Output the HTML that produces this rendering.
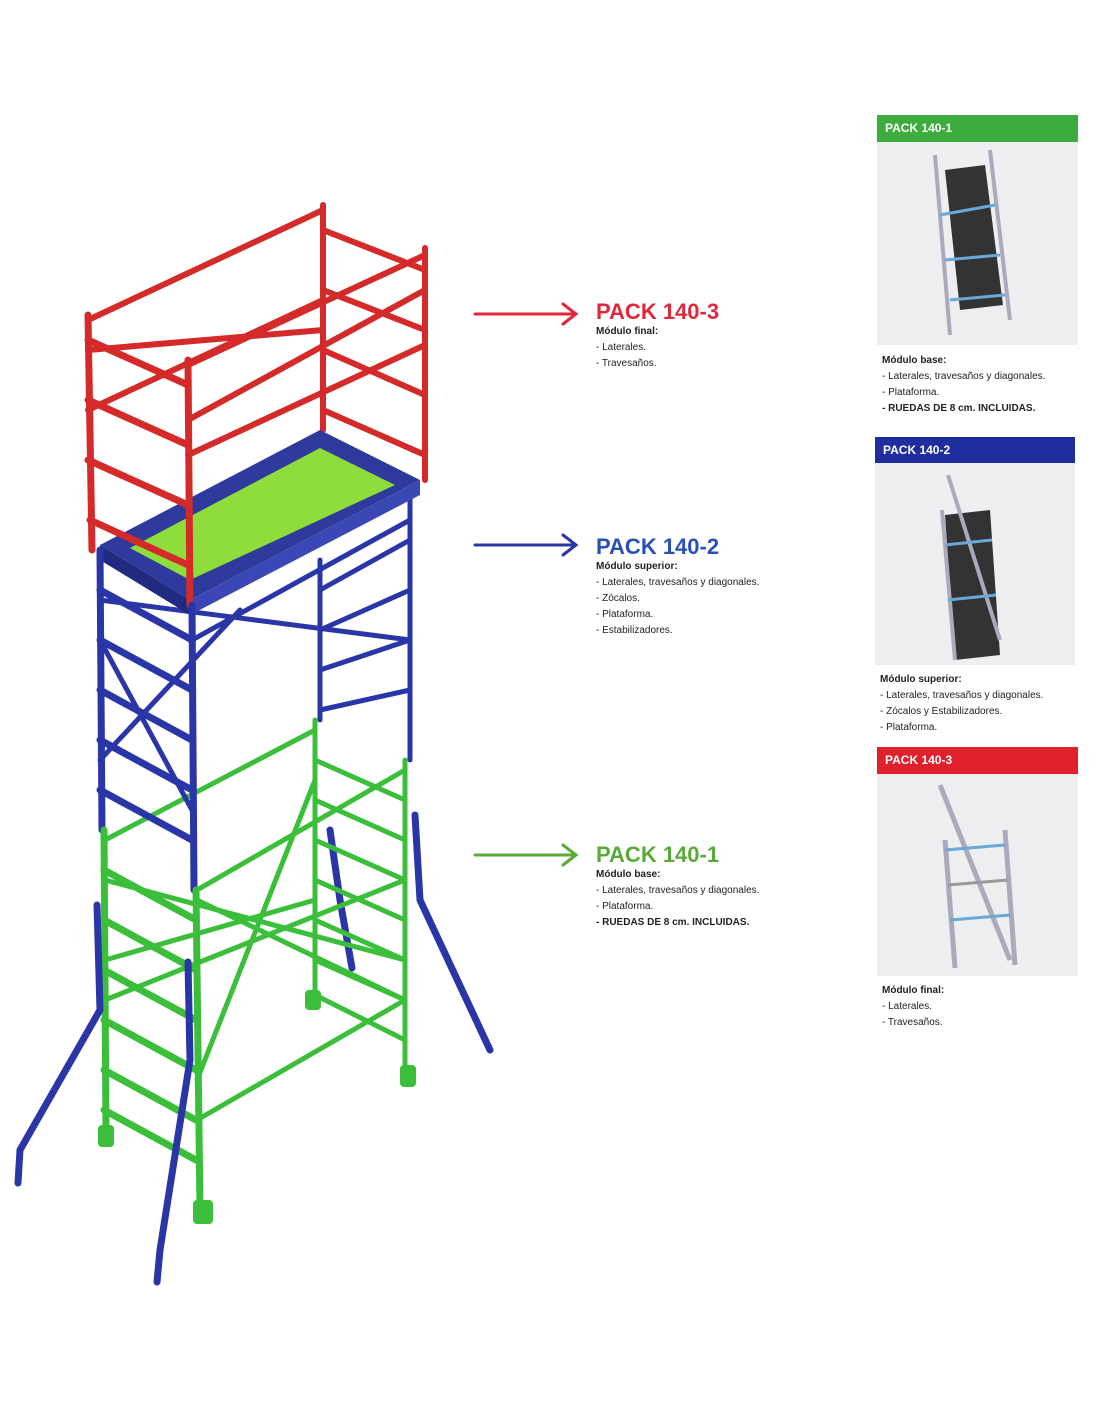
<!DOCTYPE html>
<html><head><meta charset="utf-8"><style>
body{margin:0;background:#fff;width:1100px;height:1422px;overflow:hidden;position:relative;font-family:"Liberation Sans",sans-serif}
.lbl{position:absolute;font-weight:bold;font-size:22px}
.sub{position:absolute;font-size:10px;line-height:16px;color:#222}
.sub b{font-weight:bold}
.hdr{position:absolute;color:#fff;font-weight:bold;font-size:12px;padding:6px 8px;box-sizing:border-box;height:27px}
.img{position:absolute;background:#eceeef}
.cap{position:absolute;font-size:10px;line-height:16px;color:#222}
</style></head><body>
<svg width="1100" height="1422" style="position:absolute;left:0;top:0" stroke-linecap="round">
<!-- outriggers back -->
<g stroke="#2a35a8" stroke-width="7" fill="none">
<path d="M415 815 L420 900 L490 1050"/>
<path d="M330 830 L340 900 L352 968"/>
</g>
<!-- green lower -->
<g stroke="#3bbf3b" stroke-width="5" fill="none">
<line x1="315" y1="720" x2="315" y2="1000"/>
<line x1="405" y1="760" x2="405" y2="1075"/>
<line x1="315" y1="760" x2="405" y2="800"/><line x1="315" y1="800" x2="405" y2="840"/><line x1="315" y1="840" x2="405" y2="880"/><line x1="315" y1="880" x2="405" y2="920"/><line x1="315" y1="920" x2="405" y2="960"/><line x1="315" y1="960" x2="405" y2="1000"/><line x1="315" y1="995" x2="405" y2="1040"/>
<line x1="105" y1="840" x2="315" y2="730"/><line x1="197" y1="890" x2="405" y2="770"/>
<line x1="105" y1="1000" x2="405" y2="880"/><line x1="197" y1="1080" x2="315" y2="780"/>
<line x1="105" y1="880" x2="405" y2="960"/><line x1="197" y1="1120" x2="405" y2="1000"/>
<line x1="105" y1="960" x2="315" y2="900"/><line x1="197" y1="900" x2="405" y2="1000"/>
</g>
<!-- blue middle back -->
<g stroke="#2a35a8" stroke-width="5" fill="none">
<line x1="320" y1="560" x2="320" y2="720"/>
<line x1="410" y1="490" x2="410" y2="760"/>
<line x1="320" y1="590" x2="410" y2="540"/><line x1="320" y1="630" x2="410" y2="590"/><line x1="320" y1="670" x2="410" y2="640"/><line x1="320" y1="710" x2="410" y2="690"/>
<line x1="100" y1="600" x2="410" y2="640"/><line x1="192" y1="640" x2="410" y2="520"/>
<line x1="100" y1="760" x2="240" y2="610"/><line x1="192" y1="810" x2="100" y2="640"/>
</g>
<!-- red back -->
<g stroke="#d42a2a" stroke-width="6" fill="none">
<line x1="323" y1="205" x2="323" y2="430"/>
<line x1="425" y1="248" x2="425" y2="480"/>
<line x1="323" y1="230" x2="425" y2="270"/><line x1="323" y1="290" x2="425" y2="330"/><line x1="323" y1="350" x2="425" y2="395"/><line x1="323" y1="410" x2="425" y2="455"/>
<line x1="88" y1="320" x2="323" y2="210"/><line x1="188" y1="365" x2="425" y2="255"/>
<line x1="88" y1="410" x2="323" y2="300"/><line x1="188" y1="455" x2="425" y2="345"/>
<line x1="188" y1="420" x2="425" y2="290"/><line x1="88" y1="350" x2="323" y2="330"/>
</g>
<!-- platform -->
<polygon points="100,545 320,430 420,480 190,600" fill="#2e3a9c"/>
<polygon points="130,548 320,448 395,485 190,580" fill="#8fdd3a"/>
<polygon points="100,545 190,600 190,615 100,560" fill="#1f2a80"/>
<polygon points="190,600 420,480 420,495 190,615" fill="#3a47b5"/>
<!-- red front -->
<g stroke="#d42a2a" stroke-width="7" fill="none">
<line x1="88" y1="315" x2="92" y2="550"/>
<line x1="188" y1="360" x2="190" y2="605"/>
<line x1="88" y1="340" x2="188" y2="385"/><line x1="88" y1="400" x2="188" y2="445"/><line x1="88" y1="460" x2="188" y2="505"/><line x1="90" y1="520" x2="188" y2="565"/>
</g>
<!-- blue front -->
<g stroke="#2a35a8" stroke-width="7" fill="none">
<line x1="100" y1="550" x2="102" y2="830"/>
<line x1="192" y1="605" x2="194" y2="890"/>
<line x1="100" y1="590" x2="192" y2="640"/><line x1="100" y1="640" x2="192" y2="690"/><line x1="100" y1="690" x2="192" y2="740"/><line x1="100" y1="740" x2="192" y2="790"/><line x1="100" y1="790" x2="192" y2="840"/>
</g>
<!-- green front -->
<g stroke="#3bbf3b" stroke-width="7" fill="none">
<line x1="104" y1="830" x2="106" y2="1135"/>
<line x1="196" y1="890" x2="200" y2="1210"/>
<line x1="104" y1="870" x2="196" y2="920"/><line x1="104" y1="920" x2="196" y2="970"/><line x1="104" y1="970" x2="196" y2="1020"/><line x1="104" y1="1020" x2="196" y2="1070"/><line x1="104" y1="1070" x2="196" y2="1120"/><line x1="104" y1="1110" x2="196" y2="1160"/>
</g>
<g fill="#3bbf3b"><rect x="98" y="1125" width="16" height="22" rx="4"/><rect x="193" y="1200" width="20" height="24" rx="4"/><rect x="400" y="1065" width="16" height="22" rx="4"/><rect x="305" y="990" width="16" height="20" rx="4"/></g>
<!-- front outriggers -->
<g stroke="#2a35a8" stroke-width="7" fill="none">
<path d="M97 905 L100 1010 L20 1150 L18 1183"/>
<path d="M188 962 L190 1060 L160 1250 L157 1282"/>
</g>
<!-- arrows -->
<g stroke-width="3" fill="none">
<g stroke="#e0283a"><line x1="475" y1="314" x2="575" y2="314"/><polyline points="563,304 576,314 563,324"/></g>
<g stroke="#2a35a8"><line x1="475" y1="545" x2="575" y2="545"/><polyline points="563,535 576,545 563,555"/></g>
<g stroke="#5aaa3a"><line x1="475" y1="855" x2="575" y2="855"/><polyline points="563,845 576,855 563,865"/></g>
</g>
</svg>
<div class="lbl" style="left:596px;top:299px;color:#e0283a">PACK 140-3</div>
<div class="sub" style="left:596px;top:324px"><b>Módulo final:</b><br>- Laterales.<br>- Travesaños.</div>
<div class="lbl" style="left:596px;top:534px;color:#2a4fb5">PACK 140-2</div>
<div class="sub" style="left:596px;top:559px"><b>Módulo superior:</b><br>- Laterales, travesaños y diagonales.<br>- Zócalos.<br>- Plataforma.<br>- Estabilizadores.</div>
<div class="lbl" style="left:596px;top:842px;color:#5aaa3a">PACK 140-1</div>
<div class="sub" style="left:596px;top:867px"><b>Módulo base:</b><br>- Laterales, travesaños y diagonales.<br>- Plataforma.<br><b>- RUEDAS DE 8 cm. INCLUIDAS.</b></div>

<div class="hdr" style="left:877px;top:115px;width:201px;background:#3cac3c">PACK 140-1</div>
<div class="img" style="left:877px;top:142px;width:201px;height:203px"></div>
<div class="cap" style="left:882px;top:353px"><b>Módulo base:</b><br>- Laterales, travesaños y diagonales.<br>- Plataforma.<br><b>- RUEDAS DE 8 cm. INCLUIDAS.</b></div>
<div class="hdr" style="left:875px;top:437px;width:200px;background:#1f2d9e">PACK 140-2</div>
<div class="img" style="left:875px;top:463px;width:200px;height:202px"></div>
<div class="cap" style="left:880px;top:672px"><b>Módulo superior:</b><br>- Laterales, travesaños y diagonales.<br>- Zócalos y Estabilizadores.<br>- Plataforma.</div>
<div class="hdr" style="left:877px;top:747px;width:201px;background:#e0202a">PACK 140-3</div>
<div class="img" style="left:877px;top:774px;width:201px;height:202px"></div>
<div class="cap" style="left:882px;top:983px"><b>Módulo final:</b><br>- Laterales.<br>- Travesaños.</div>

<svg width="1100" height="1422" style="position:absolute;left:0;top:0" fill="none">
<g stroke="#aab" stroke-width="4"><line x1="935" y1="155" x2="950" y2="335"/><line x1="990" y1="150" x2="1010" y2="320"/></g>
<polygon points="945,170 985,165 1003,305 960,310" fill="#333"/>
<g stroke="#6aa8d8" stroke-width="3"><line x1="940" y1="215" x2="995" y2="205"/><line x1="945" y1="260" x2="1000" y2="255"/><line x1="950" y1="300" x2="1005" y2="295"/></g>
<polygon points="945,515 990,510 1000,655 955,660" fill="#333"/>
<g stroke="#aab" stroke-width="4"><line x1="948" y1="475" x2="1000" y2="640"/><line x1="942" y1="510" x2="955" y2="660"/></g>
<g stroke="#6aa8d8" stroke-width="3"><line x1="945" y1="545" x2="992" y2="540"/><line x1="948" y1="600" x2="996" y2="595"/></g>
<g stroke="#aab" stroke-width="5"><line x1="940" y1="785" x2="1010" y2="960"/><line x1="945" y1="840" x2="955" y2="968"/><line x1="1005" y1="830" x2="1015" y2="965"/></g>
<g stroke="#6aa8d8" stroke-width="3"><line x1="945" y1="850" x2="1005" y2="845"/><line x1="950" y1="920" x2="1010" y2="915"/></g>
<g stroke="#999" stroke-width="3"><line x1="948" y1="885" x2="1008" y2="880"/></g>
</svg>
</body></html>
